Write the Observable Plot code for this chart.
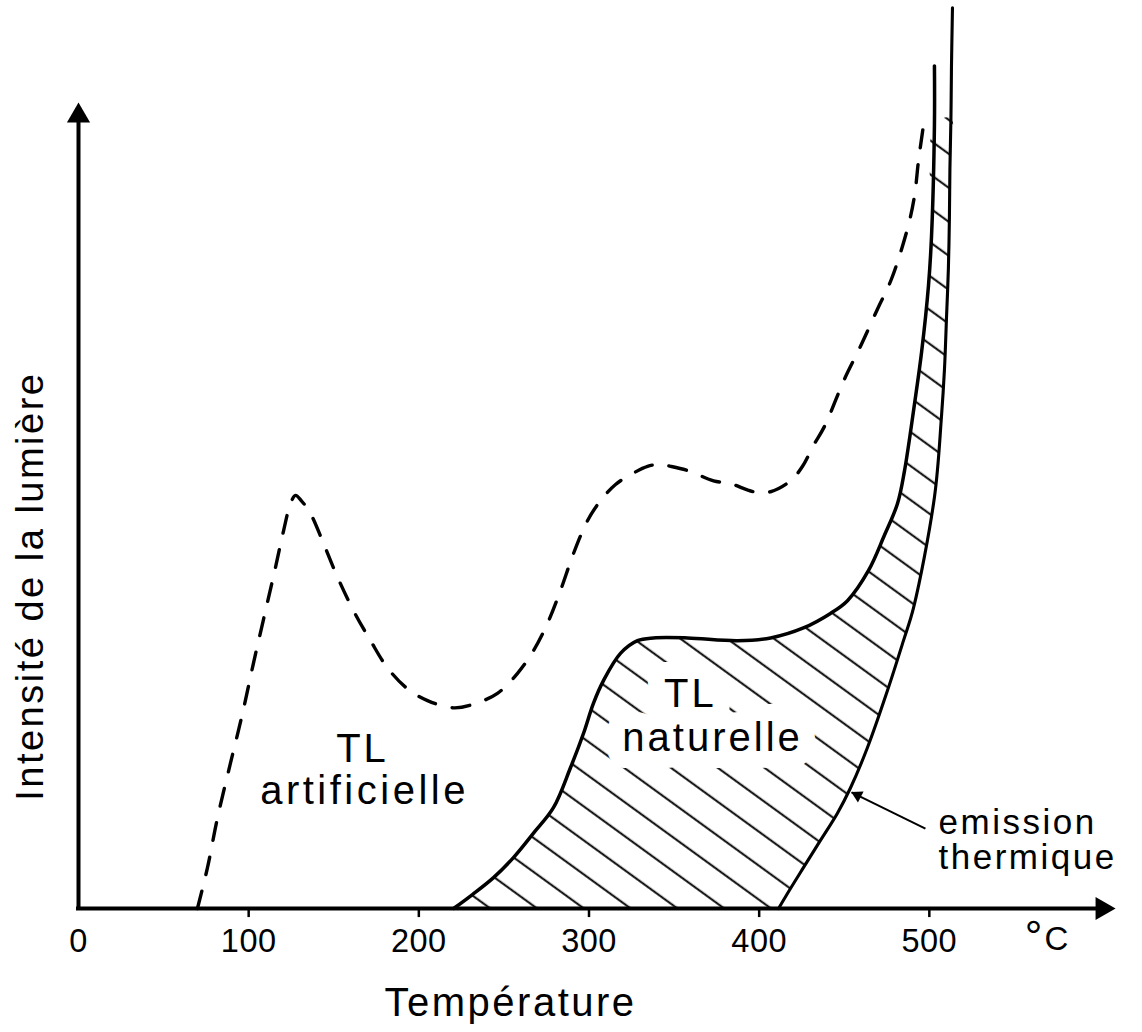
<!DOCTYPE html>
<html>
<head>
<meta charset="utf-8">
<script src="https://cdn.jsdelivr.net/npm/d3@7"></script>
<script src="https://cdn.jsdelivr.net/npm/@observablehq/plot@0.6"></script>
<style>
  html, body { margin: 0; padding: 0; background: #fff; }
  #chart { width: 1142px; height: 1032px; }
</style>
</head>
<body>
<div id="chart"></div>
<script>
// ---- Data (temperature in °C, light intensity in arbitrary units) ----
const xTicks = [100, 200, 300, 400, 500];
const xTickLabels = [0, 100, 200, 300, 400, 500];

// TL artificielle (dashed curve)
const artT = [69.9, 75.8, 81.7, 89.3, 96.4, 102.8, 109.9, 115.8, 120.5, 124.6, 127.5, 131.0, 136.3, 144.0, 152.2, 161.6, 171.6, 181.6, 193.3, 205.1, 220.4, 232.1, 246.2, 258.0, 267.4, 275.6, 283.2, 290.9, 299.1, 306.7, 315.6, 325.6, 334.4, 342.0, 347.9, 358.5, 373.2, 383.1, 396.7, 406.7, 418.4, 425.5, 431.9, 438.4, 450.1, 459.5, 469.5, 477.7, 487.2, 491.3, 493.6, 496.6];
const artI = [0, 4.5, 10.0, 16.0, 21.5, 27.0, 32.8, 37.6, 41.6, 44.6, 45.5, 44.9, 43.5, 40.2, 36.5, 32.8, 29.5, 26.5, 24.2, 22.9, 22.1, 22.5, 23.7, 25.9, 28.4, 31.4, 35.0, 39.1, 42.7, 44.9, 46.7, 47.9, 48.7, 48.9, 48.7, 48.2, 47.1, 46.8, 45.9, 45.9, 47.1, 48.7, 51.0, 53.1, 58.3, 61.9, 66.0, 69.3, 74.9, 78.5, 82.3, 86.3];

// TL naturelle (solid curve, left boundary of hatched area)
const natT = [220.4, 231.5, 243.9, 255.6, 267.4, 279.1, 289.1, 296.8, 302.6, 308.5, 318.5, 328.5, 337.9, 357.9, 387.3, 406.7, 426.0, 441.9, 451.9, 464.2, 473.6, 481.3, 485.4, 491.3, 495.4, 499.5, 501.3, 503.0, 503.0];
const natI = [0, 1.54, 3.4, 5.6, 8.3, 11.1, 15.5, 19.3, 22.6, 25.1, 28.1, 29.5, 29.8, 29.8, 29.5, 29.8, 30.9, 32.5, 33.9, 37.2, 41.1, 44.6, 48.2, 55.6, 61.2, 68.6, 74.1, 86.3, 92.8];

// Emission thermique (solid curve, right boundary)
const emT = [411.4, 418.4, 426.0, 436.0, 446.0, 453.7, 463.6, 475.4, 484.8, 490.7, 503.0, 507.1, 508.9, 510.1, 511.2, 511.8, 512.1, 512.7, 513.0, 513.6];
const emI = [0, 2.2, 4.5, 7.5, 10.5, 13.3, 17.7, 24.0, 29.5, 33.1, 45.3, 54.1, 59.4, 65.1, 70.5, 76.1, 81.5, 87.1, 92.6, 99.2];

const hatchTop = 87.5;            // hatching stops near this intensity
const xAxisEnd = 597.6, yAxisEnd = 86.6;
const xArrowAt = 601.6, yArrowAt = 87.3;
const pointer = {t1: 497.7, i1: 8.8, t2: 454.3, i2: 12.8};  // "emission thermique" pointer

// ---- Build tables ----
const zip = (T, I) => T.map((t, k) => ({t, i: I[k]}));
const artificielle = zip(artT, artI);
const naturelle = zip(natT, natI);
const emission = zip(emT, emI);
const hatchPoly = [
  ...naturelle.filter(d => d.i <= hatchTop),
  ...emission.filter(d => d.i <= hatchTop).reverse()
];

const font = "'Liberation Sans', Arial, Helvetica, sans-serif";

const chart = Plot.plot({
  width: 1142,
  height: 1032,
  marginLeft: 78,
  marginRight: 43,
  marginTop: 0,
  marginBottom: 124,
  x: {domain: [0, 600], axis: null},
  y: {domain: [0, 100], axis: null},
  style: {fontFamily: font, background: "white", color: "black", letterSpacing: "2.5px"},
  marks: [
    // hatched region
    Plot.line(hatchPoly, {x: "t", y: "i", curve: "catmull-rom", fill: "url(#hatch)", stroke: "none"}),
    // labels inside hatch with white halo (gaps in hatching)
    Plot.text(["TL"], {x: 359.6, y: 23.6, text: d => d, fontSize: 40, fill: "black", stroke: "white", strokeWidth: 34, strokeLinejoin: "round"}),
    Plot.text(["naturelle"], {x: 372.6, y: 18.8, text: d => d, fontSize: 40, fill: "black", stroke: "white", strokeWidth: 34, strokeLinejoin: "round"}),
    // solid curves
    Plot.line(naturelle, {x: "t", y: "i", curve: "catmull-rom", stroke: "black", strokeWidth: 3.5}),
    Plot.line(emission, {x: "t", y: "i", curve: "catmull-rom", stroke: "black", strokeWidth: 3.1}),
    // dashed curve
    Plot.line(artificielle, {x: "t", y: "i", curve: "catmull-rom", stroke: "black", strokeWidth: 3.4, strokeDasharray: "18,17", strokeLinecap: "round"}),
    // axes
    Plot.ruleY([0], {x1: 0, x2: xAxisEnd, stroke: "black", strokeWidth: 4, strokeLinecap: "square"}),
    Plot.ruleX([0], {y1: 0, y2: yAxisEnd, stroke: "black", strokeWidth: 4, strokeLinecap: "square"}),
    Plot.dot([0], {x: xArrowAt, y: 0, symbol: "triangle", r: 8.6, fill: "black", stroke: "none", rotate: 90}),
    Plot.dot([0], {x: 0, y: yArrowAt, symbol: "triangle", r: 8.6, fill: "black", stroke: "none"}),
    Plot.ruleX(xTicks, {x: d => d, y1: 0, y2: -1.0, stroke: "black", strokeWidth: 2.5}),
    Plot.text(xTickLabels, {x: d => d, y: 0, dy: 33, text: d => String(d), fontSize: 32.5, fill: "black"}),
    Plot.text(["°"], {x: 561.2, y: 0, dy: 29, text: d => d, fontSize: 44, fill: "black"}),
    Plot.text(["C"], {x: 574.7, y: 0, dy: 31, text: d => d, fontSize: 33, fill: "black"}),
    // axis titles
    Plot.text(["Température"], {x: 253.9, y: -10.4, text: d => d, fontSize: 40, fill: "black"}),
    Plot.text(["Intensité de la lumière"], {x: -28.2, y: 35.5, text: d => d, fontSize: 38, rotate: -90, fill: "black"}),
    // TL artificielle label
    Plot.text(["TL"], {x: 166.9, y: 17.5, text: d => d, fontSize: 40, fill: "black"}),
    Plot.text(["artificielle"], {x: 168.1, y: 12.9, text: d => d, fontSize: 40, fill: "black"}),
    // emission thermique label + pointer
    Plot.text(["emission"], {x: 505.4, y: 9.49, text: d => d, fontSize: 35, textAnchor: "start", fill: "black"}),
    Plot.text(["thermique"], {x: 505.4, y: 5.53, text: d => d, fontSize: 35, textAnchor: "start", fill: "black"}),
    Plot.link([pointer], {x1: "t1", y1: "i1", x2: "t2", y2: "i2", stroke: "black", strokeWidth: 2}),
    Plot.dot([pointer], {x: "t2", y: "i2", dx: 6, dy: 3, symbol: "triangle", r: 4.6, fill: "black", stroke: "none", rotate: -63})
  ]
});

// hatch pattern definition
const svgSel = d3.select(chart);
const pat = svgSel.insert("defs", ":first-child")
  .append("pattern")
  .attr("id", "hatch")
  .attr("patternUnits", "userSpaceOnUse")
  .attr("width", 40)
  .attr("height", 27.5)
  .attr("patternTransform", "rotate(36)");
pat.append("line")
  .attr("x1", 0).attr("x2", 40)
  .attr("y1", 6.6).attr("y2", 6.6)
  .attr("stroke", "black")
  .attr("stroke-width", 1.8);

// per-text tracking
const tracking = {"TL": "3px", "naturelle": "3px", "artificielle": "3.5px", "°": "0px", "C": "0px"};
svgSel.selectAll("text").each(function() {
  const s = this.textContent;
  if (/^\d+$/.test(s)) this.style.letterSpacing = "0.5px";
  else if (tracking[s]) this.style.letterSpacing = tracking[s];
});

document.getElementById("chart").appendChild(chart);
</script>
</body>
</html>
